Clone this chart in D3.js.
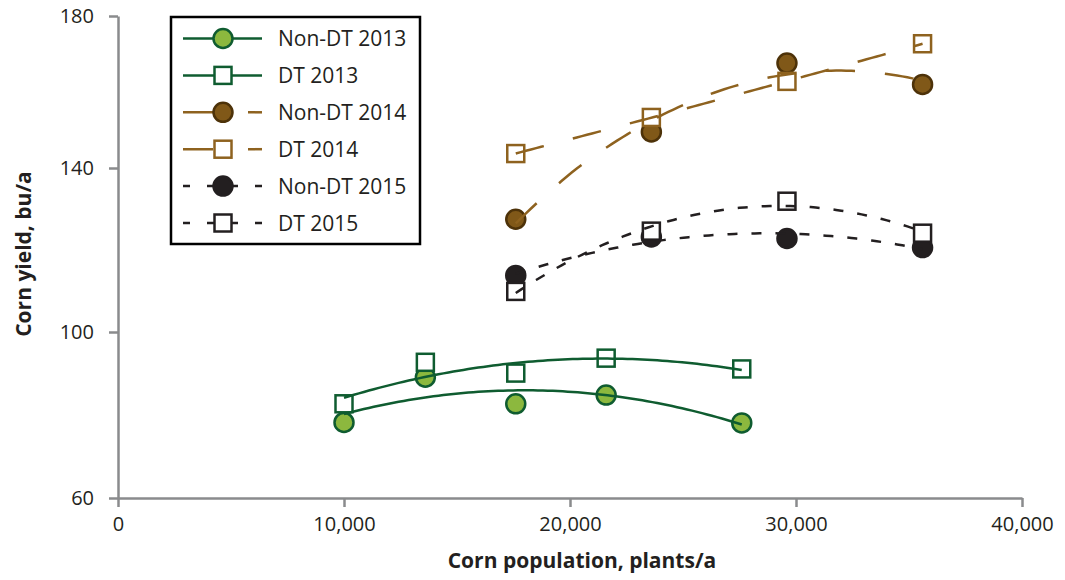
<!DOCTYPE html>
<html>
<head>
<meta charset="utf-8">
<script src="https://cdn.jsdelivr.net/npm/d3@7"></script>
<style>
  body { margin: 0; background: #fff; }
  text { font-family: "Open Sans", sans-serif; fill: #231f20; }
</style>
</head>
<body>
<div id="chart"></div>
<script>
// plant populations (plants/a)
const pop2013 = [10000, 13600, 17600, 21600, 27600]
const pop1415 = [17600, 23600, 29600, 35600]

// yields (bu/a)
const nonDT2013 = [78.2, 89.1, 82.7, 84.8, 78.1]
const dt2013 = [82.7, 92.7, 90.1, 93.7, 91.1]
const nonDT2014 = [127.5, 149.5, 167.6, 162.0]
const dt2014 = [143.8, 153.3, 162.8, 172.7]
const nonDT2015 = [113.8, 123.2, 122.8, 120.6]
const dt2015 = [109.9, 124.6, 131.9, 124.1]

const seriesNames = ['Non-DT 2013', 'DT 2013', 'Non-DT 2014', 'DT 2014', 'Non-DT 2015', 'DT 2015']
const xTicks = [0, 10000, 20000, 30000, 40000]
const yTicks = [60, 100, 140, 180]

const width = 1065
const height = 580

const green = '#0f5c30', greenFill = '#8cb83e'
const brown = '#8e621f', brownFill = '#805818', brownEdge = '#4d3209'
const black = '#231f20'

const series = [
    { name: seriesNames[0], xs: pop2013, ys: nonDT2013, shape: 'circle', stroke: green, fill: greenFill, edge: green, dash: null, legDash: null },
    { name: seriesNames[1], xs: pop2013, ys: dt2013, shape: 'square', stroke: green, fill: '#fff', edge: green, dash: null, legDash: null },
    { name: seriesNames[2], xs: pop1415, ys: nonDT2014, shape: 'circle', stroke: brown, fill: brownFill, edge: brownEdge, dash: '29,30', legDash: '30,35' },
    { name: seriesNames[3], xs: pop1415, ys: dt2014, shape: 'square', stroke: brown, fill: '#fff', edge: brown, dash: '29,30', legDash: '30,35' },
    { name: seriesNames[4], xs: pop1415, ys: nonDT2015, shape: 'circle', stroke: black, fill: black, edge: black, dash: '10,14', legDash: '7,17' },
    { name: seriesNames[5], xs: pop1415, ys: dt2015, shape: 'square', stroke: black, fill: '#fff', edge: black, dash: '10,14', legDash: '7,17' }
]

// least squares quadratic trendline
const quadFit = (xs, ys) => {
    const u = xs.map(x => x / 10000)
    const s = [0, 0, 0, 0, 0], t = [0, 0, 0]
    u.forEach((x, i) => {
        for (let k = 0; k < 5; k++) s[k] += x ** k
        for (let k = 0; k < 3; k++) t[k] += ys[i] * x ** k
    })
    const m = [[s[0], s[1], s[2], t[0]], [s[1], s[2], s[3], t[1]], [s[2], s[3], s[4], t[2]]]
    for (let c = 0; c < 3; c++) {
        for (let r = c + 1; r < 3; r++) {
            const f = m[r][c] / m[c][c]
            for (let k = c; k < 4; k++) m[r][k] -= f * m[c][k]
        }
    }
    const co = [0, 0, 0]
    for (let r = 2; r >= 0; r--) {
        let v = m[r][3]
        for (let k = r + 1; k < 3; k++) v -= m[r][k] * co[k]
        co[r] = v / m[r][r]
    }
    return x => { const v = x / 10000; return co[0] + co[1] * v + co[2] * v * v }
}

const svg = d3.select('#chart')
    .append('svg')
    .attr('width', width)
    .attr('height', height)

const x = d3.scaleLinear().domain([0, 40000]).range([118, 1022])
const y = d3.scaleLinear().domain([60, 100, 140, 180]).range([498, 332, 168, 16])

const axisColor = '#8a8b8d'

const gx = svg.append('g')
    .attr('transform', `translate(0, ${y(60)})`)
    .call(d3.axisBottom(x).tickValues(xTicks).tickFormat(d3.format(',')).tickSize(9).tickSizeOuter(0).tickPadding(10))
const gy = svg.append('g')
    .attr('transform', `translate(${x(0)}, 0)`)
    .call(d3.axisLeft(y).tickValues(yTicks).tickSize(9).tickSizeOuter(0).tickPadding(15))

;[gx, gy].forEach(g => {
    g.selectAll('path, line').attr('stroke', axisColor).attr('stroke-width', 2.5)
    g.selectAll('text').attr('font-size', 20).attr('font-family', '"Open Sans", sans-serif').attr('fill', '#231f20')
})

svg.append('text')
    .attr('x', 582).attr('y', 568)
    .attr('text-anchor', 'middle')
    .attr('font-size', 21).attr('font-weight', 'bold')
    .text('Corn population, plants/a')

svg.append('text')
    .attr('transform', 'translate(31, 254) rotate(-90)')
    .attr('text-anchor', 'middle')
    .attr('font-size', 21).attr('font-weight', 'bold')
    .text('Corn yield, bu/a')

const drawMarker = (g, s, cx, cy) => {
    if (s.shape === 'circle') {
        g.append('circle')
            .attr('cx', cx).attr('cy', cy).attr('r', 9.5)
            .attr('fill', s.fill).attr('stroke', s.edge).attr('stroke-width', 2.5)
    } else {
        g.append('rect')
            .attr('x', cx - 8.5).attr('y', cy - 8.5).attr('width', 17).attr('height', 17)
            .attr('fill', s.fill).attr('stroke', s.edge).attr('stroke-width', 2.5)
    }
}

// markers
const markers = svg.append('g')
series.forEach(s => {
    s.xs.forEach((xv, i) => drawMarker(markers, s, x(xv), y(s.ys[i])))
})

// trendlines on top
const line = d3.line().x(d => x(d[0])).y(d => y(d[1]))
series.forEach(s => {
    const f = quadFit(s.xs, s.ys)
    const [x0, x1] = d3.extent(s.xs)
    const pts = d3.range(81).map(i => { const xv = x0 + (x1 - x0) * i / 80; return [xv, f(xv)] })
    svg.append('path')
        .attr('d', line(pts))
        .attr('fill', 'none')
        .attr('stroke', s.stroke)
        .attr('stroke-width', 2.5)
        .attr('stroke-dasharray', s.dash)
})

// legend
const legend = svg.append('g')
legend.append('rect')
    .attr('x', 171).attr('y', 17).attr('width', 249).attr('height', 227)
    .attr('fill', '#fff').attr('stroke', '#000').attr('stroke-width', 2.5)

const rowY = d3.scalePoint().domain(seriesNames).range([38.5, 223])
series.forEach(s => {
    const cy = rowY(s.name)
    legend.append('line')
        .attr('x1', 183).attr('x2', 262).attr('y1', cy).attr('y2', cy)
        .attr('stroke', s.stroke).attr('stroke-width', 2.5)
        .attr('stroke-dasharray', s.legDash)
    drawMarker(legend, s, 223, cy)
    legend.append('text')
        .attr('x', 278).attr('y', cy).attr('dy', '0.36em')
        .attr('font-size', 21)
        .text(s.name)
})
</script>
</body>
</html>
